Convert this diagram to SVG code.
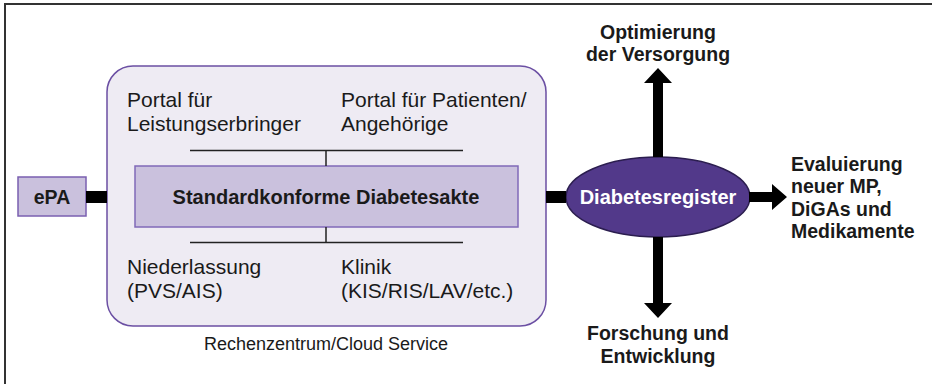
<svg xmlns="http://www.w3.org/2000/svg" width="932" height="384" viewBox="0 0 932 384">
<style>
.t{font-family:"Liberation Sans",Arial,sans-serif;fill:#1a1a1a}
.r{font-size:21px}
.b{font-size:19.5px;font-weight:bold}
.bb{font-size:20px;font-weight:bold}
.c{text-anchor:middle}
.thin{stroke:#222;stroke-width:1.5;fill:none}
.bar{fill:#000}
</style>
<rect width="932" height="384" fill="#fff"/>
<path d="M5 384 V4 H932" fill="none" stroke="#333" stroke-width="2"/>
<g id="cloud">
<rect x="107" y="66" width="439" height="260" rx="26" fill="#eeebf3" stroke="#6b4fa3" stroke-width="1.5"/>
<text class="t r" x="127" y="107">Portal für<tspan x="127" dy="24">Leistungserbringer</tspan></text>
<text class="t r" x="341" y="107">Portal für Patienten/<tspan x="341" dy="24">Angehörige</tspan></text>
<text class="t r" x="127" y="274">Niederlassung<tspan x="127" dy="24">(PVS/AIS)</tspan></text>
<text class="t r" x="341" y="274">Klinik<tspan x="341" dy="24">(KIS/RIS/LAV/etc.)</tspan></text>
</g>
<text class="t c" x="326" y="350" font-size="18">Rechenzentrum/Cloud Service</text>
<g id="akte">
<rect x="135" y="166" width="383" height="61" fill="#cac1dd" stroke="#8069b8" stroke-width="1.5"/>
<text class="t bb c" x="326" y="204">Standardkonforme Diabetesakte</text>
</g>
<g id="epa">
<rect x="18" y="177" width="68" height="39" fill="#cac1dd" stroke="#7a5fb0" stroke-width="1.5"/>
<text class="t b c" x="52" y="204">ePA</text>
</g>
<g id="register">
<ellipse cx="658" cy="197" rx="92" ry="40" fill="#52398a" stroke="#2b1d4f" stroke-width="1.5"/>
<text class="t bb c" x="658" y="204" style="fill:#fff">Diabetesregister</text>
</g>
<g id="connectors">
<rect class="bar" x="86" y="191" width="21" height="12"/>
<rect class="bar" x="546" y="191" width="20" height="12"/>
<path class="thin" d="M190 150.5 H463 M326 150.5 V166"/>
<path class="thin" d="M190 242.5 H463 M326 227 V242.5"/>
<path class="bar" d="M653 157 V83 H644 L658 68 L672 83 H663 V157 Z"/>
<path class="bar" d="M653 237 V303 H644 L658 318 L672 303 H663 V237 Z"/>
<path class="bar" d="M749 192 H772 V184 L787 197 L772 210 V202 H749 Z"/>
</g>
<g id="labels">
<text class="t b c" x="658" y="39">Optimierung<tspan x="658" dy="22">der Versorgung</tspan></text>
<text class="t b c" x="658" y="340">Forschung und<tspan x="658" dy="23">Entwicklung</tspan></text>
<text class="t b" x="791" y="171">Evaluierung<tspan x="791" dy="22">neuer MP,</tspan><tspan x="791" dy="23">DiGAs und</tspan><tspan x="791" dy="22">Medikamente</tspan></text>
</g>
</svg>
